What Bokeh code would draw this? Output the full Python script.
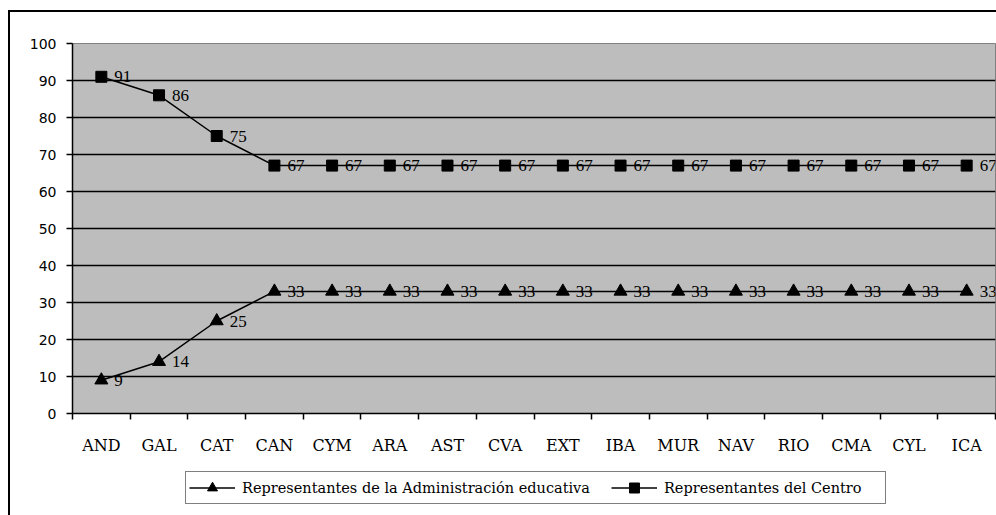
from bokeh.plotting import figure
from bokeh.layouts import column
from bokeh.models import (FixedTicker, Legend, LegendItem,
                          ColumnDataSource, Range1d)
from bokeh.core.properties import value
from bokeh.embed import file_html
from bokeh.resources import INLINE

# Regions (comunidades autónomas)
regions = ["AND", "GAL", "CAT", "CAN", "CYM", "ARA", "AST", "CVA",
           "EXT", "IBA", "MUR", "NAV", "RIO", "CMA", "CYL", "ICA"]

# Percentages per group
admin = [9, 14, 25, 33, 33, 33, 33, 33, 33, 33, 33, 33, 33, 33, 33, 33]
centro = [91, 86, 75, 67, 67, 67, 67, 67, 67, 67, 67, 67, 67, 67, 67, 67]

series_names = ["Representantes de la Administración educativa",
                "Representantes del Centro"]

y_ticks = [0, 10, 20, 30, 40, 50, 60, 70, 80, 90, 100]

n = len(regions)
xpos = [i + 0.5 for i in range(n)]
src = ColumnDataSource(dict(
    x=xpos,
    admin=admin,
    centro=centro,
    admin_txt=[str(v) for v in admin],
    centro_txt=[str(v) for v in centro],
))

# ---- main chart -------------------------------------------------------
p = figure(width=988, height=448, output_backend="svg", toolbar_location=None,
           x_range=Range1d(0, n), y_range=Range1d(0, 100),
           min_border_left=62, min_border_right=3, min_border_top=31,
           min_border_bottom=47)

p.background_fill_color = "#BDBDBD"
p.border_fill_color = "white"
p.outline_line_color = "#808080"
p.outline_line_width = 1

# Y axis
p.yaxis.ticker = FixedTicker(ticks=y_ticks)
p.yaxis.axis_line_color = "black"
p.yaxis.axis_line_width = 1.5
p.yaxis.major_tick_line_color = "black"
p.yaxis.major_tick_line_width = 1.5
p.yaxis.major_tick_out = 6
p.yaxis.major_tick_in = 0
p.yaxis.minor_tick_line_color = None
p.yaxis.major_label_standoff = 10
p.yaxis.major_label_text_font = "DejaVu Sans"
p.yaxis.major_label_text_font_size = "14px"
p.yaxis.major_label_text_color = "black"

# X axis: labels at category centres, tick marks on category boundaries
p.xaxis.ticker = FixedTicker(ticks=xpos, minor_ticks=list(range(n + 1)))
p.xaxis.major_label_overrides = {x: r for x, r in zip(xpos, regions)}
p.xaxis.axis_line_color = "black"
p.xaxis.axis_line_width = 1.5
p.xaxis.major_tick_line_color = None
p.xaxis.minor_tick_line_color = "black"
p.xaxis.minor_tick_line_width = 1.5
p.xaxis.minor_tick_out = 6
p.xaxis.minor_tick_in = 0
p.xaxis.major_label_standoff = 16
p.xaxis.major_label_text_font = "DejaVu Serif"
p.xaxis.major_label_text_font_size = "16px"
p.xaxis.major_label_text_color = "black"

# Grid
p.xgrid.grid_line_color = None
p.ygrid.ticker = FixedTicker(ticks=y_ticks)
p.ygrid.grid_line_color = "black"
p.ygrid.grid_line_width = 1.5

# Series
p.line("x", "admin", source=src, line_color="black", line_width=1.5)
p.scatter("x", "admin", source=src, marker="triangle", size=13,
          fill_color="black", line_color="black")
p.line("x", "centro", source=src, line_color="black", line_width=1.5)
p.scatter("x", "centro", source=src, marker="square", size=11,
          fill_color="black", line_color="black")

# Value labels
for col, txt in (("admin", "admin_txt"), ("centro", "centro_txt")):
    p.text("x", col, text=txt, source=src, x_offset=13, y_offset=0,
           text_baseline="middle", text_align="left",
           text_font=value("Liberation Serif"), text_font_size="17px",
           text_color="black")

# ---- legend strip -----------------------------------------------------
# Same series again, with ranges that keep them out of view: they only
# supply the legend's line-and-marker swatches.
q = figure(width=988, height=55, output_backend="svg", toolbar_location=None,
           x_range=Range1d(-20, -10), y_range=Range1d(-20, -10), min_border=0)
q.xaxis.visible = False
q.yaxis.visible = False
q.grid.visible = False
q.outline_line_color = None
q.background_fill_color = "white"
q.border_fill_color = "white"

ql1 = q.line("x", "admin", source=src, line_color="black", line_width=1.5)
qm1 = q.scatter("x", "admin", source=src, marker="triangle",
                fill_color="black", line_color="black")
ql2 = q.line("x", "centro", source=src, line_color="black", line_width=1.5)
qm2 = q.scatter("x", "centro", source=src, marker="square",
                fill_color="black", line_color="black")

legend = Legend(items=[
    LegendItem(label=series_names[0], renderers=[ql1, qm1]),
    LegendItem(label=series_names[1], renderers=[ql2, qm2]),
], orientation="horizontal", location=(113, 11))
legend.border_line_color = "black"
legend.border_line_width = 1.5
legend.background_fill_color = "white"
legend.background_fill_alpha = 1
legend.label_text_font = "DejaVu Serif"
legend.label_text_font_size = "14.5px"
legend.label_text_color = "black"
legend.glyph_width = 46
legend.glyph_height = 25
legend.label_height = 20
legend.label_width = 218
legend.label_standoff = 7
legend.spacing = 21
legend.padding = 3
legend.margin = 0
q.add_layout(legend, "center")

# Outer box: only its top and left edges fall inside the page
layout = column(p, q, spacing=0, margin=(10, 0, 0, 8),
                styles={"border-top": "2px solid black",
                        "border-left": "2px solid black"})

open("out.html", "w").write(file_html(layout, INLINE))
